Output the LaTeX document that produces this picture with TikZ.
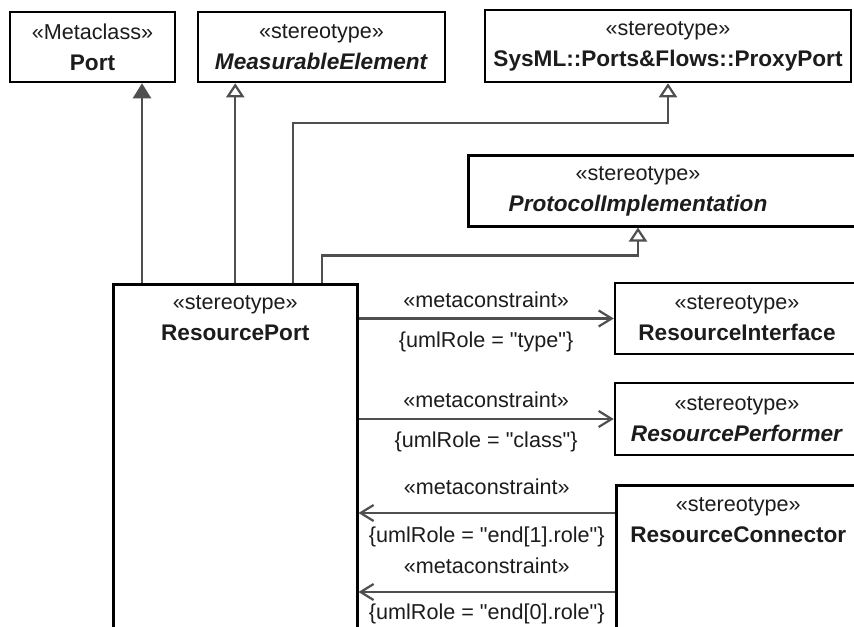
\documentclass[tikz,border=0pt]{standalone}
\usepackage{fontspec}
\setmainfont{Liberation Sans}
\usetikzlibrary{arrows.meta, positioning}
\definecolor{liniengrau}{HTML}{4F4F4F}
\definecolor{textschwarz}{HTML}{1C1C1C}
\newcommand{\nm}[1]{{\fontsize{11.3}{15.5}\selectfont\bfseries #1}}
\newcommand{\qt}{\textquotedbl}
\tikzset{
    box/.style={draw=black, line width=1.25pt, fill=white, inner sep=0pt, align=center,
        text=textschwarz, font=\fontsize{10.8}{15.5}\selectfont},
    stereo/.style={align=center, inner sep=0pt, text=textschwarz, font=\fontsize{10.8}{15.5}\selectfont},
    lbl/.style={text=textschwarz, font=\fontsize{10.8}{13}\selectfont},
    gen/.style={draw=liniengrau, line width=1.1pt, -{Triangle[open, length=7pt, width=9pt]}},
    genfill/.style={draw=liniengrau, line width=1.1pt, -{Triangle[length=7.5pt, width=9pt, fill=liniengrau]}},
    meta/.style={draw=liniengrau, line width=1.1pt, -{Straight Barb[length=6.5pt, width=8pt]}}
}

\begin{document}
\begin{tikzpicture}[x=0.5pt, y=-0.5pt]

% Bildausschnitt
\clip (0,0) rectangle (854,626);

% obere Reihe
\node[box, minimum width=82.5pt, minimum height=35pt] (port) at (92.5,47) {«Metaclass»\\\nm{Port}};
\node[box, minimum width=123.5pt, minimum height=35pt] (measure) at (321.5,47) {«stereotype»\\\nm{\textit{MeasurableElement}}};
\node[box, minimum width=183pt, minimum height=36pt] (proxy) at (668,46) {«stereotype»\\\nm{SysML::Ports\&Flows::ProxyPort}};

% ProtocolImplementation (rechts abgeschnitten)
\node[box, anchor=north west, minimum width=220pt, minimum height=35.5pt] (protocol) at (467,154) {};
\node[stereo] (protocoltxt) at (638,191) {«stereotype»\\\nm{\textit{ProtocolImplementation}}};
\coordinate (protoarrow) at (protocoltxt |- protocol.south);

% ResourcePort (unten abgeschnitten)
\node[box, anchor=north west, minimum width=122pt, minimum height=200pt] (rport) at (112,283) {};
\node[stereo, anchor=north] (rporttxt) at ([yshift=-6pt]rport.north) {«stereotype»\\\nm{ResourcePort}};

% rechte Spalte
\node[box, minimum width=122pt, minimum height=35.5pt] (iface) at (737,318.5) {«stereotype»\\\nm{ResourceInterface}};
\node[box, minimum width=122pt, minimum height=36pt] (perf) at (737,419) {«stereotype»\\\nm{\textit{ResourcePerformer}}};
\node[box, anchor=north west, minimum width=122pt, minimum height=100pt] (rconn) at (615,484) {};
\node[stereo, anchor=north] (rconntxt) at ([yshift=-6.5pt]rconn.north) {«stereotype»\\\nm{ResourceConnector}};

% Generalisierungen
\draw[genfill] ([xshift=15pt]rport.north west) -- ([xshift=15pt]rport.north west |- port.south);
\draw[gen] (rport.north) -- (rport.north |- measure.south);
\draw[gen] ([xshift=29pt]rport.north) |- ([yshift=-20pt]proxy.south) -- (proxy.south);
\draw[gen] ([xshift=43.5pt]rport.north) |- ([yshift=-14pt]protoarrow) -- (protoarrow);

% Metaconstraints
\draw[meta] (rport.east |- iface.west) -- node[lbl, above=1.5pt] {«metaconstraint»}
    node[lbl, below=3pt] {\{umlRole = \qt{}type\qt\}} (iface.west);
\draw[meta] (rport.east |- perf.west) -- node[lbl, above=2pt] {«metaconstraint»}
    node[lbl, below=2.5pt] {\{umlRole = \qt{}class\qt\}} (perf.west);
\draw[meta] ([yshift=-14.5pt]rconn.north west) -- node[lbl, above=5.5pt] {«metaconstraint»}
    node[lbl, below=3pt] {\{umlRole = \qt{}end[1].role\qt\}} ([yshift=-14.5pt]rconn.north west -| rport.east);
\draw[meta] ([yshift=-54pt]rconn.north west) -- node[lbl, above=5.5pt] {«metaconstraint»}
    node[lbl, below=2pt] {\{umlRole = \qt{}end[0].role\qt\}} ([yshift=-54pt]rconn.north west -| rport.east);

\end{tikzpicture}
\end{document}
